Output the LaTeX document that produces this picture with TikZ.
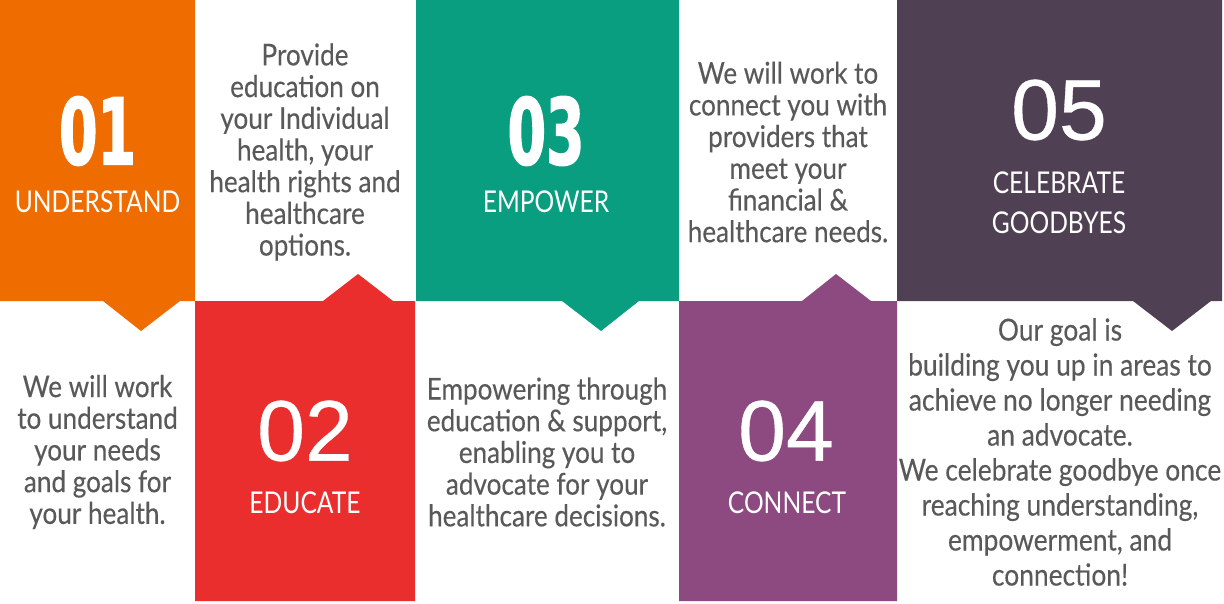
\documentclass[tikz,border=0pt]{standalone}
\usepackage{fontspec}
\newfontfamily\bodyfont{Lato}[FakeStretch=0.87, FakeBold=0.3]
\newfontfamily\labelfont{Lato}[FakeStretch=0.82]
\newfontfamily\heavyfont{DejaVu Sans Bold}[FakeStretch=0.6, FakeBold=1.5]
\newfontfamily\numfont{Liberation Sans}[FakeBold=0.4]
\definecolor{corange}{RGB}{238,108,0}
\definecolor{cred}{RGB}{234,46,46}
\definecolor{cgreen}{RGB}{10,158,128}
\definecolor{cpurple}{RGB}{140,74,128}
\definecolor{cdark}{RGB}{79,64,84}
\definecolor{ctext}{RGB}{89,89,89}
\tikzset{
  bignum/.style={text=white, inner sep=0pt, font={\numfont\fontsize{86}{86}\selectfont}},
  heavynum/.style={text=white, inner sep=0pt, font={\heavyfont\fontsize{92}{92}\selectfont}},
  label/.style={text=white, inner sep=0pt, align=center, font={\labelfont\fontsize{30}{40}\selectfont}},
  desc/.style={text=ctext, inner sep=0pt, align=center, font={\bodyfont\fontsize{30}{31.7}\selectfont}},
  descB/.style={text=ctext, inner sep=0pt, align=center, font={\bodyfont\fontsize{30.3}{35}\selectfont}}
}
\begin{document}
\begin{tikzpicture}[x=1pt,y=-1pt]
\useasboundingbox (0,0) rectangle (1224,604);
% boxes
\fill[corange] (0,0) -- (195,0) -- (195,301) -- (180,301) -- (141,331) -- (103,301) -- (0,301) -- cycle;
\fill[cred] (195,301) -- (323,301) -- (358,274) -- (393,301) -- (415,301) -- (415,601) -- (195,601) -- cycle;
\fill[cgreen] (416,0) -- (679,0) -- (679,301) -- (639,301) -- (601,331) -- (562,301) -- (416,301) -- cycle;
\fill[cpurple] (679,301) -- (802,301) -- (836,274) -- (871,301) -- (897,301) -- (897,601) -- (679,601) -- cycle;
\fill[cdark] (897,0) -- (1222,0) -- (1222,301) -- (1211,301) -- (1172,331) -- (1133,301) -- (897,301) -- cycle;
% column 1
\node[heavynum] (n01) at (97.5,131) {01};
\node[label] (l01) at (97.5,202) {UNDERSTAND};
\node[desc] (d01) at (97.5,452) {We will work\\to understand\\your needs\\and goals for\\your health.};
% column 2
\node[desc] (d02) at (305,152) {Provide\\education on\\your Individual\\health, your\\health rights and\\healthcare\\options.};
\node[bignum] (n02) at (305,431) {02};
\node[label] (l02) at (305,503) {EDUCATE};
% column 3
\node[heavynum] (n03) at (546,131) {03};
\node[label] (l03) at (546,202) {EMPOWER};
\node[desc] (d03) at (547,452) {Empowering through\\education \& support,\\enabling you to\\advocate for your\\healthcare decisions.};
% column 4
\node[desc] (d04) at (788,152) {We will work to\\connect you with\\providers that\\meet your\\financial \&\\healthcare needs.};
\node[bignum] (n04) at (786,431) {04};
\node[label] (l04) at (787,503) {CONNECT};
% column 5
\node[bignum] (n05) at (1059,110) {05};
\node[label] (l05) at (1059,203) {CELEBRATE\\GOODBYES};
\node[descB] (d05) at (1060,452) {Our goal is\\building you up in areas to\\achieve no longer needing\\an advocate.\\We celebrate goodbye once\\reaching understanding,\\empowerment, and\\connection!};
\end{tikzpicture}
\end{document}
